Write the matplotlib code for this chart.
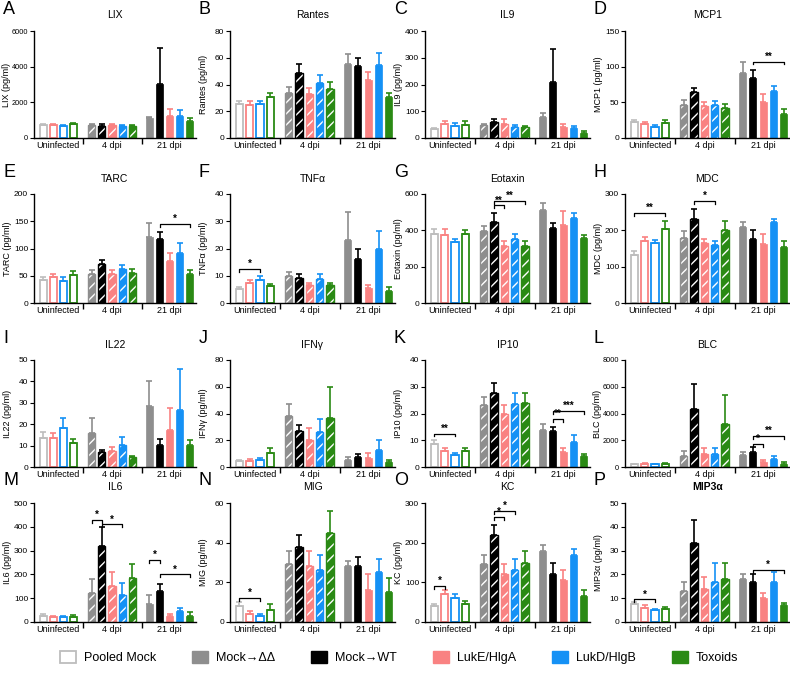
import matplotlib
matplotlib.use("Agg")
import matplotlib.pyplot as plt
from matplotlib.patches import Patch
import numpy as np

plt.rcParams['font.family'] = ['Liberation Sans', 'DejaVu Sans']
plt.rcParams['hatch.linewidth'] = 1.0

# bar order: Uninfected (Pooled, LukE, LukD, Tox), 4 dpi (ΔΔ, WT, LukE, LukD, Tox), 21 dpi (same)
groups = ['Uninfected', '4 dpi', '21 dpi']
legend_labels = ['Pooled Mock', 'Mock→ΔΔ', 'Mock→WT', 'LukE/HlgA', 'LukD/HlgB', 'Toxoids']

LIX = [750, 730, 680, 760, 750, 700, 730, 680, 680, 1100, 3050, 1250, 1250, 950]
LIX_err = [60, 50, 40, 60, 60, 60, 60, 50, 60, 100, 2000, 350, 330, 150]
RANTES = [25.5, 25, 25.5, 30.5, 33.5, 48.5, 33, 41, 37, 55, 54, 43, 54.5, 31]
RANTES_err = [2, 2.5, 2, 3.5, 5, 6.5, 4.5, 6, 4.5, 8, 6, 6, 9, 3]
IL9 = [33, 52, 45, 48, 47, 60, 53, 42, 40, 77, 210, 42, 38, 20]
IL9_err = [5, 10, 10, 14, 6, 12, 17, 5, 6, 17, 123, 12, 8, 8]
MCP1 = [22, 20, 15, 21, 46, 64, 45, 46, 42, 91, 84, 50, 66, 33]
MCP1_err = [3, 3, 3, 4, 7, 6, 6, 6, 5, 15, 11, 11, 7, 8]
TARC = [42, 47, 41, 51, 53, 71, 53, 62, 55, 122, 117, 77, 91, 53]
TARC_err = [6, 6, 6, 7, 8, 8, 8, 8, 8, 24, 13, 15, 20, 7]
TNFA = [5, 7.5, 8.3, 6.3, 10, 9.3, 6.5, 8.8, 6.5, 23, 16, 5.5, 20, 4.5]
TNFA_err = [0.8, 0.8, 1.5, 0.8, 1.5, 1.2, 1, 1.7, 1, 10.5, 4, 1, 6.5, 1.5]
EOTAXIN = [378, 377, 335, 380, 395, 448, 315, 350, 315, 513, 415, 432, 470, 358]
EOTAXIN_err = [30, 28, 20, 22, 30, 45, 25, 28, 28, 38, 23, 75, 25, 15]
MDC = [132, 172, 165, 205, 178, 232, 165, 160, 202, 208, 175, 163, 222, 155]
MDC_err = [12, 10, 8, 22, 20, 28, 12, 10, 25, 15, 26, 27, 10, 15]
IL22 = [13.5, 13.5, 18, 11, 16, 7, 7.5, 10.5, 4.5, 28.5, 10.5, 17.5, 26.5, 10.5]
IL22_err = [3, 2.5, 5, 2, 7, 0.8, 2, 3.5, 0.8, 11.5, 2.5, 10, 19.5, 2]
IFNG = [4.5, 4.5, 5, 10.5, 38, 27, 20, 26.5, 36.5, 5, 7.5, 6.5, 12.5, 4]
IFNG_err = [1, 1.5, 1.5, 4, 9, 4.5, 9, 9.5, 23, 2.5, 2, 4, 7.5, 1.5]
IP10 = [8.5, 6, 4.3, 6, 23, 27.5, 20, 23.5, 24, 14, 13.5, 5.5, 9.5, 4]
IP10_err = [1.5, 1, 1, 1, 3, 4, 3, 4, 3.5, 2, 1.5, 1.5, 2.5, 1]
BLC = [200, 220, 200, 250, 800, 4300, 1000, 1000, 3200, 900, 1100, 400, 600, 250]
BLC_err = [50, 50, 50, 80, 400, 1900, 400, 400, 2200, 200, 400, 150, 200, 100]
IL6 = [25, 20, 20, 20, 120, 320, 150, 115, 185, 75, 130, 25, 45, 25]
IL6_err = [10, 5, 5, 10, 60, 80, 60, 50, 60, 40, 30, 10, 15, 15]
MIG = [8, 4, 3, 6, 29, 38, 28, 26, 45, 28, 28, 16, 25, 15]
MIG_err = [2, 1.5, 1, 3, 7, 6, 8, 8, 11, 3, 5, 8, 7, 7]
KC = [40, 70, 60, 45, 145, 220, 120, 130, 150, 180, 120, 105, 170, 65]
KC_err = [5, 10, 10, 8, 25, 25, 25, 30, 30, 15, 30, 25, 15, 15]
MIP3A = [7.5, 6, 5, 5.5, 13, 33, 14, 17, 18, 18, 17, 10, 17, 7]
MIP3A_err = [1, 1, 0.5, 1, 4, 10, 5, 8, 7, 2, 3, 2, 4, 1]

titles = ['LIX', 'Rantes', 'IL9', 'MCP1', 'TARC', 'TNFα', 'Eotaxin', 'MDC',
          'IL22', 'IFNγ', 'IP10', 'BLC', 'IL6', 'MIG', 'KC', 'MIP3α']
means = [LIX, RANTES, IL9, MCP1, TARC, TNFA, EOTAXIN, MDC,
         IL22, IFNG, IP10, BLC, IL6, MIG, KC, MIP3A]
errs = [LIX_err, RANTES_err, IL9_err, MCP1_err, TARC_err, TNFA_err, EOTAXIN_err, MDC_err,
        IL22_err, IFNG_err, IP10_err, BLC_err, IL6_err, MIG_err, KC_err, MIP3A_err]
ymax = [6000, 80, 400, 150, 200, 40, 600, 300, 50, 80, 40, 8000, 500, 60, 300, 50]
ystep = [2000, 20, 100, 50, 50, 10, 200, 100, 10, 20, 10, 2000, 100, 20, 100, 10]

# significance brackets: (panel, bar i, bar j, height, label)
sig = [
    (3, 10, 13, 107, '**'),
    (4, 10, 13, 145, '*'),
    (5, 0, 2, 12.5, '*'),
    (6, 5, 6, 537, '**'), (6, 5, 8, 561, '**'),
    (7, 0, 3, 247, '**'), (7, 5, 7, 280, '*'),
    (10, 0, 2, 12.5, '**'), (10, 10, 11, 18, '**'), (10, 10, 13, 21, '***'),
    (11, 10, 11, 1700, '*'), (11, 10, 13, 2300, '**'),
    (12, 4, 5, 430, '*'), (12, 5, 7, 410, '*'),
    (12, 9, 10, 260, '*'), (12, 10, 13, 200, '*'),
    (13, 0, 2, 12, '*'),
    (14, 0, 1, 90, '*'), (14, 5, 6, 265, '*'), (14, 5, 7, 280, '*'),
    (15, 0, 2, 9.5, '*'), (15, 10, 13, 22, '*'),
]

c_pool = '#bdbdbd'
c_dd = '#8e8e8e'
c_wt = '#000000'
c_luke = '#f98282'
c_lukd = '#1591f5'
c_tox = '#2a8a14'
colors = [c_pool, c_luke, c_lukd, c_tox] + [c_dd, c_wt, c_luke, c_lukd, c_tox] * 2
styles = ['open'] * 4 + ['hatch'] * 5 + ['solid'] * 5
xpos = np.concatenate([np.arange(4), np.arange(5) + 4.8, np.arange(5) + 10.5])
w = 0.7

fig = plt.figure(figsize=(7.9, 6.79), dpi=100)
lefts = [34, 230, 425, 625]
widths = [162, 165, 165, 165]
tops = [31, 194, 360, 503]
bottoms = [138, 303, 467, 622]
W, H = 790, 679

for k in range(16):
    r, c = divmod(k, 4)
    ax = fig.add_axes([lefts[c] / W, 1 - bottoms[r] / H, widths[c] / W,
                       (bottoms[r] - tops[r]) / H])
    m = means[k]
    e = errs[k]
    for i in range(14):
        col = colors[i]
        if styles[i] == 'open':
            ax.bar(xpos[i], m[i], w, facecolor='white', edgecolor=col, linewidth=1.3)
        elif styles[i] == 'hatch':
            ax.bar(xpos[i], m[i], w, facecolor=col, edgecolor='white', hatch='///', linewidth=0)
            ax.bar(xpos[i], m[i], w, fill=False, edgecolor=col, linewidth=1.0)
        else:
            ax.bar(xpos[i], m[i], w, facecolor=col, edgecolor=col, linewidth=0.5)
        ax.errorbar(xpos[i], m[i], yerr=[[0], [e[i]]], fmt='none', ecolor=col,
                    elinewidth=1.2, capsize=2.5, capthick=1.2)
    ax.set_xlim(-0.9, 15.1)
    ax.set_ylim(0, ymax[k])
    ax.set_yticks(np.arange(0, ymax[k] + ystep[k] / 2, ystep[k]))
    ax.set_xticks([1.5, 6.8, 12.5])
    ax.set_xticklabels(groups, fontsize=6.5)
    ax.set_xticks([3.9, 9.75], minor=True)
    ax.tick_params(axis='x', which='major', length=0, pad=2)
    ax.tick_params(axis='x', which='minor', length=4, width=1.0, direction='out')
    big = ymax[k] >= 1000
    ax.tick_params(axis='y', labelsize=5.3 if big else 6, length=3, width=0.8, pad=1.2)
    for s in ['top', 'right']:
        ax.spines[s].set_visible(False)
    for s in ['left', 'bottom']:
        ax.spines[s].set_linewidth(1.0)
    ax.set_ylabel(titles[k] + ' (pg/ml)', fontsize=6.5)
    ax.yaxis.set_label_coords(-0.14 if big else -0.135, 0.5)
    ax.set_title(titles[k], fontsize=7.5, pad=9,
                 fontweight='bold' if k == 15 else 'normal')
    ax.text(-0.19, 1.12, 'ABCDEFGHIJKLMNOP'[k], transform=ax.transAxes,
            fontsize=13, ha='left', va='bottom')
    tick = ymax[k] * 0.025
    for (p, i, j, h, lab) in sig:
        if p != k:
            continue
        ax.plot([xpos[i], xpos[i], xpos[j], xpos[j]], [h - tick, h, h, h - tick],
                color='black', linewidth=0.9)
        ax.text((xpos[i] + xpos[j]) / 2, h, lab, ha='center', va='bottom',
                fontsize=7, fontweight='bold')

handles = [Patch(facecolor='white', edgecolor=c_pool, linewidth=1.3),
           Patch(facecolor=c_dd, edgecolor=c_dd),
           Patch(facecolor=c_wt, edgecolor=c_wt),
           Patch(facecolor=c_luke, edgecolor=c_luke),
           Patch(facecolor=c_lukd, edgecolor=c_lukd),
           Patch(facecolor=c_tox, edgecolor=c_tox)]
fig.legend(handles, legend_labels, loc='center', bbox_to_anchor=(0.505, 0.032),
           ncol=6, frameon=False, fontsize=9, columnspacing=2.9,
           handlelength=1.3, handleheight=1.1, handletextpad=0.6)

fig.savefig('out.png', dpi=100)
